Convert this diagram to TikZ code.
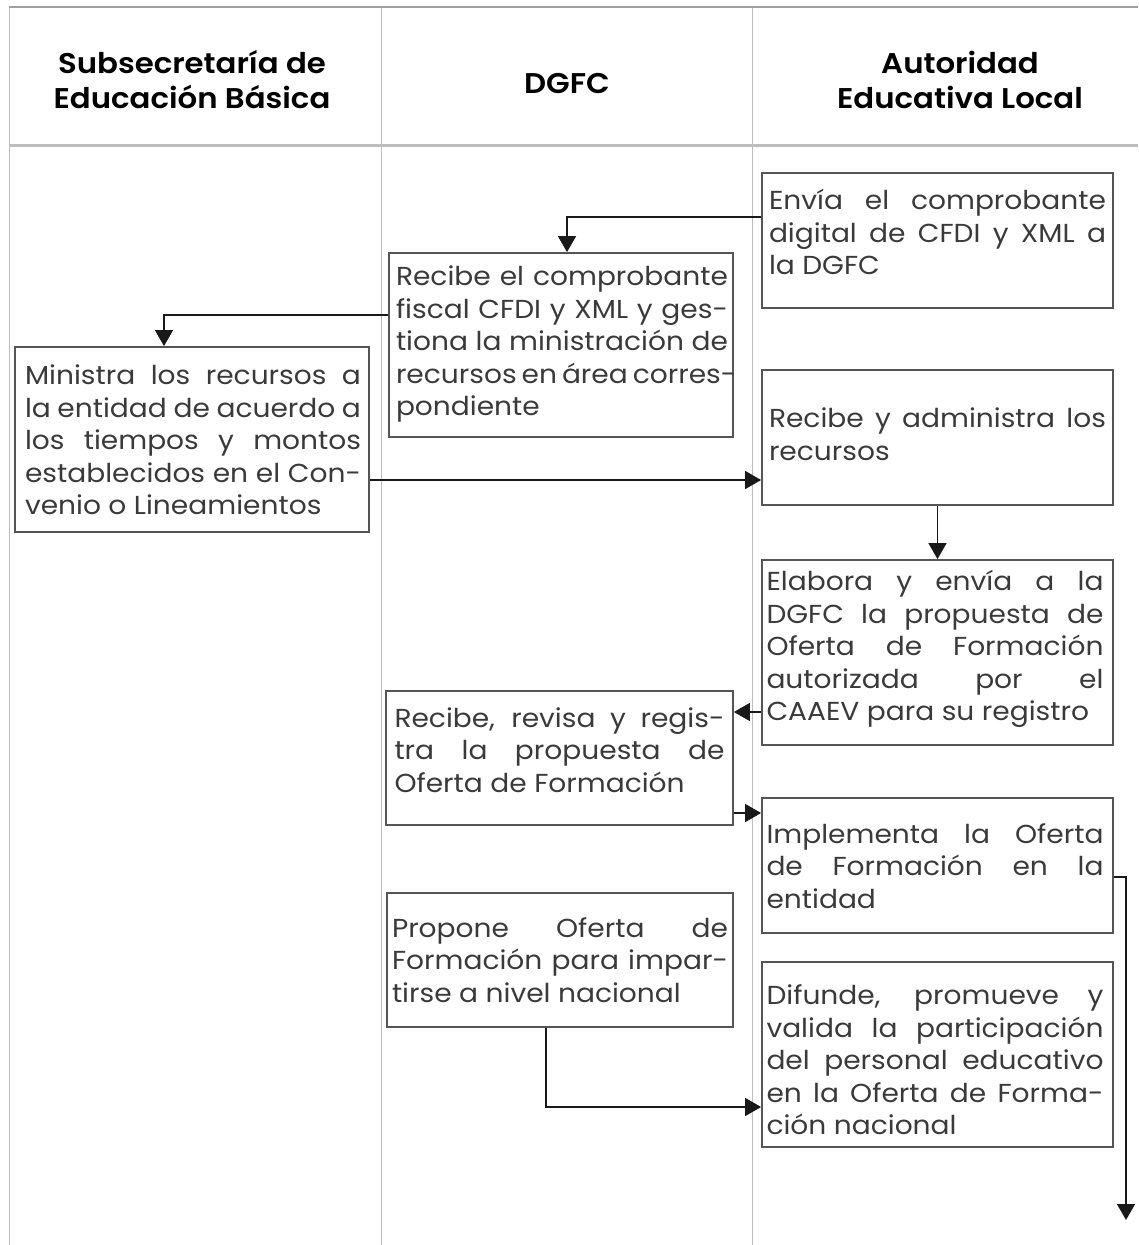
\documentclass[tikz,border=0pt]{standalone}
\usepackage{fontspec}
\setmainfont{Poppins}[FakeStretch=1.08]
\newfontfamily\hdrfont{Poppins SemiBold}[FakeStretch=1.08]
\usetikzlibrary{arrows.meta,calc}
\definecolor{lanec}{HTML}{BDBDBD}
\definecolor{boxc}{HTML}{555555}
\definecolor{txtc}{HTML}{3A3A3A}
\newcommand{\nsp}{\spaceskip=0pt\xspaceskip=0pt\relax}
\newcommand{\jl}[1]{\makebox[\hsize][s]{\nsp #1}\\}
\newcommand{\lastl}[1]{{\nsp #1}}
\begin{document}
\begin{tikzpicture}[x=1pt,y=-1pt,
  box/.style={draw=boxc, line width=1.8pt, rectangle, inner sep=0pt},
  txt/.style={font=\fontsize{26}{32.5}\selectfont, text=txtc, align=left, inner sep=0pt},
  hdr/.style={font=\fontsize{28.5}{35}\selectfont\hdrfont, align=center, inner sep=0pt},
  conn/.style={draw=black!90, line width=1.5pt, -{Triangle[length=16pt,width=18pt]}},
  laneline/.style={draw=lanec, line width=1pt}]
\useasboundingbox (0,0) rectangle (1138,1245);
% lanes
\draw[laneline] (9,7) -- (9,1245);
\draw[laneline] (381,7) -- (381,1245);
\draw[laneline] (752,7) -- (752,1245);
\draw[draw=gray!75, line width=1.5pt] (9,7) -- (1138,7);
\draw[draw=lanec, line width=3pt] (9,145) -- (1138,145);
% headers
\node[hdr] (h1) at (192,80) {Subsecretaría de\\Educación Básica};
\node[hdr] (h2) at (567,84) {DGFC};
\node[hdr] (h3) at (960,80) {Autoridad\\Educativa Local};
% boxes
\node[box, minimum width=351pt, minimum height=135pt] (A) at (937.5,240.5) {};
\node[box, minimum width=344pt, minimum height=184pt] (B) at (561,345) {};
\node[box, minimum width=354pt, minimum height=185pt] (D) at (192,439.5) {};
\node[box, minimum width=351pt, minimum height=135pt] (C) at (937.5,437.5) {};
\node[box, minimum width=351pt, minimum height=185pt] (E) at (937.5,652.5) {};
\node[box, minimum width=347pt, minimum height=134pt] (F) at (559.5,758) {};
\node[box, minimum width=351pt, minimum height=135pt] (G) at (937.5,865.5) {};
\node[box, minimum width=346pt, minimum height=134pt] (P) at (560,960) {};
\node[box, minimum width=351pt, minimum height=185pt] (H) at (937.5,1054.5) {};
% texts
\node[txt, text width=337pt] (At) at (937.5,232) {\jl{Envía el comprobante}\jl{digital de CFDI y XML a}\lastl{la DGFC}};
\node[txt, text width=332pt] (Bt) at (562,344) {\jl{Recibe el comprobante}\jl{fiscal CFDI y XML y ges-}\jl{tiona la ministración de}\jl{recursos en área corres-}\lastl{pondiente}};
\node[txt, text width=336pt] (Dt) at (193,440) {\jl{Ministra los recursos a}\jl{la entidad de acuerdo a}\jl{los tiempos y montos}\jl{establecidos en el Con-}\lastl{venio o Lineamientos}};
\node[txt, text width=337pt] (Ct) at (937.5,434) {\jl{Recibe y administra los}\lastl{recursos}};
\node[txt, text width=337pt] (Et) at (935,649) {\jl{Elabora y envía a la}\jl{DGFC la propuesta de}\jl{Oferta de Formación}\jl{autorizada por el}\lastl{CAAEV para su registro}};
\node[txt, text width=330pt] (Ft) at (559.5,750) {\jl{Recibe, revisa y regis-}\jl{tra la propuesta de}\lastl{Oferta de Formación}};
\node[txt, text width=337pt] (Gt) at (935,866) {\jl{Implementa la Oferta}\jl{de Formación en la}\lastl{entidad}};
\node[txt, text width=336pt] (Pt) at (560,960) {\jl{Propone Oferta de}\jl{Formación para impar-}\lastl{tirse a nivel nacional}};
\node[txt, text width=337pt] (Ht) at (935,1060) {\jl{Difunde, promueve y}\jl{valida la participación}\jl{del personal educativo}\jl{en la Oferta de Forma-}\lastl{ción nacional}};
% connectors
\coordinate (gend) at (1126,1220);
\draw[conn] ([yshift=23.5pt]A.west) -| ([xshift=6pt]B.north);
\draw[conn] ([yshift=30pt]B.west) -| ([xshift=-28pt]D.north);
\draw[conn] ([yshift=-40.5pt]D.east) -- ([yshift=-42.5pt]C.west);
\draw[conn] (C.south) -- (E.north);
\draw[conn] ([yshift=-59.5pt]E.west) -- ([yshift=46pt]F.east);
\draw[conn] ([yshift=-55pt]F.east) -- ([yshift=52.5pt]G.west);
\draw[conn] ([yshift=-11.5pt]G.east) -| (gend);
\draw[conn] ([xshift=-14pt]P.south) |- ([yshift=-52.5pt]H.west);
\end{tikzpicture}
\end{document}
